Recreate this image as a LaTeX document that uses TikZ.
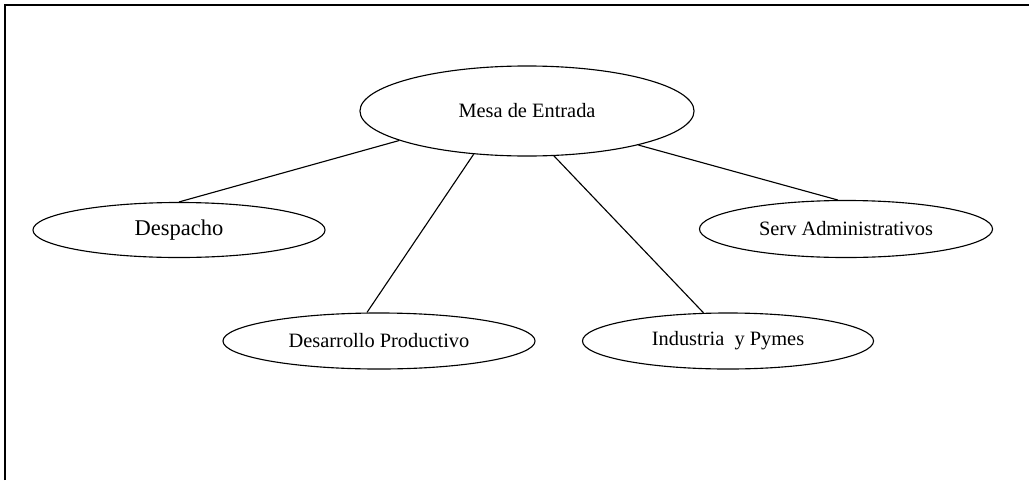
\documentclass[tikz,border=0pt]{standalone}
\usepackage{fontspec}
\setmainfont{Liberation Serif}
\usetikzlibrary{shapes.geometric}
\begin{document}
\begin{tikzpicture}[x=0.025cm,y=-0.025cm,
  oval/.style={ellipse,draw,line width=0.8pt,inner sep=0pt,font=\fontsize{14.5}{17}\selectfont},
  link/.style={line width=0.8pt},
  frame/.style={line width=1pt}]
\useasboundingbox (0,0) rectangle (1029,480);
\draw[frame] (5,480) -- (5,5) -- (1029,5);
\node[oval,minimum width=8.35cm,minimum height=2.25cm] (mesa) at (527,111) {Mesa de Entrada};
\node[oval,minimum width=7.3cm,minimum height=1.375cm,font=\fontsize{16}{19}\selectfont] (desp) at (179,230) {Despacho};
\node[oval,minimum width=7.8cm,minimum height=1.4cm] (desa) at (379,341) {Desarrollo Productivo};
\node[oval,minimum width=7.275cm,minimum height=1.4cm] (ind) at (728,341) {Industria\ \ y Pymes};
\node[oval,minimum width=7.325cm,minimum height=1.425cm] (serv) at (846,229) {Serv Administrativos};
\draw[link] (mesa.193.7) -- (desp.north);
\draw[link] (mesa.219.2) -- (desa.113.2);
\draw[link] (mesa.301.3) -- (ind.131.8);
\draw[link] (mesa.343.3) -- (serv.106);
\end{tikzpicture}
\end{document}
